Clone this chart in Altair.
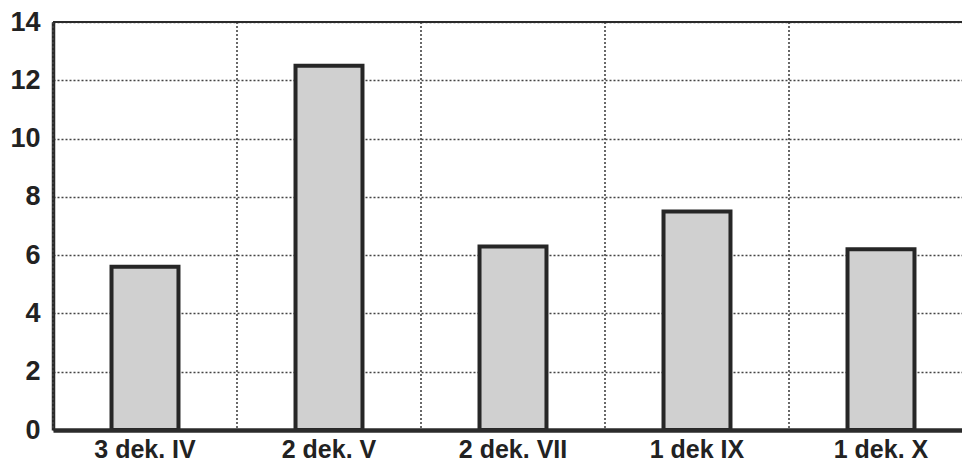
import altair as alt
import pandas as pd

categories = ["3 dek. IV", "2 dek. V", "2 dek. VII", "1 dek IX", "1 dek. X"]
values = [5.6, 12.5, 6.3, 7.5, 6.2]
y_ticks = [0, 2, 4, 6, 8, 10, 12, 14]
y_max = 14

df = pd.DataFrame({"cat": categories, "val": values})

FONT = "Liberation Sans"
INK = "#2b2b2b"

# band layout spans a little past the visible right edge, as in the reference
xscale = alt.Scale(domain=categories, paddingInner=0, paddingOuter=0, range=[0, 920])
yscale = alt.Scale(domain=[0, y_max], nice=False)

xaxis = alt.Axis(
    labelAngle=0, ticks=False, grid=False, title=None,
    domainColor=INK, domainWidth=4.5, labelFont=FONT, labelFontWeight="bold",
    labelFontSize=25, labelColor="#222", labelPadding=7, zindex=2,
)
yaxis = alt.Axis(
    values=y_ticks, ticks=False, title=None, grid=True,
    gridDash=[2, 2], gridColor="#444", gridWidth=1.6, gridOpacity=1,
    domainColor=INK, domainWidth=3.5, labelFont=FONT, labelFontWeight="bold",
    labelFontSize=27, labelColor="#222", labelPadding=13,
)

base = alt.Chart(df)

vgrid = base.mark_rule(color="#444", strokeWidth=1.6, strokeDash=[2, 2]).encode(
    x=alt.X("cat:N", scale=xscale, axis=xaxis, sort=categories, bandPosition=0),
)

top_line = alt.Chart(pd.DataFrame({"y": [y_max]})).mark_rule(
    color=INK, strokeWidth=2
).encode(y=alt.Y("y:Q", scale=yscale, axis=yaxis))

bars = base.mark_bar(
    width=alt.RelativeBandSize(0.364), fill="#d0d0d0", stroke="#262626", strokeWidth=4
).encode(
    x=alt.X("cat:N", scale=xscale, axis=xaxis, sort=categories),
    y=alt.Y("val:Q", scale=yscale, axis=yaxis),
)

chart = alt.layer(vgrid, top_line, bars).properties(
    width=909, height=408,
    autosize=alt.AutoSizeParams(type="none"),
    padding={"left": 45, "top": 14, "right": 0, "bottom": 35},
).configure_view(stroke=None).configure(background="white")

chart.save("out.html", embed_options={"renderer": "svg", "actions": False})
